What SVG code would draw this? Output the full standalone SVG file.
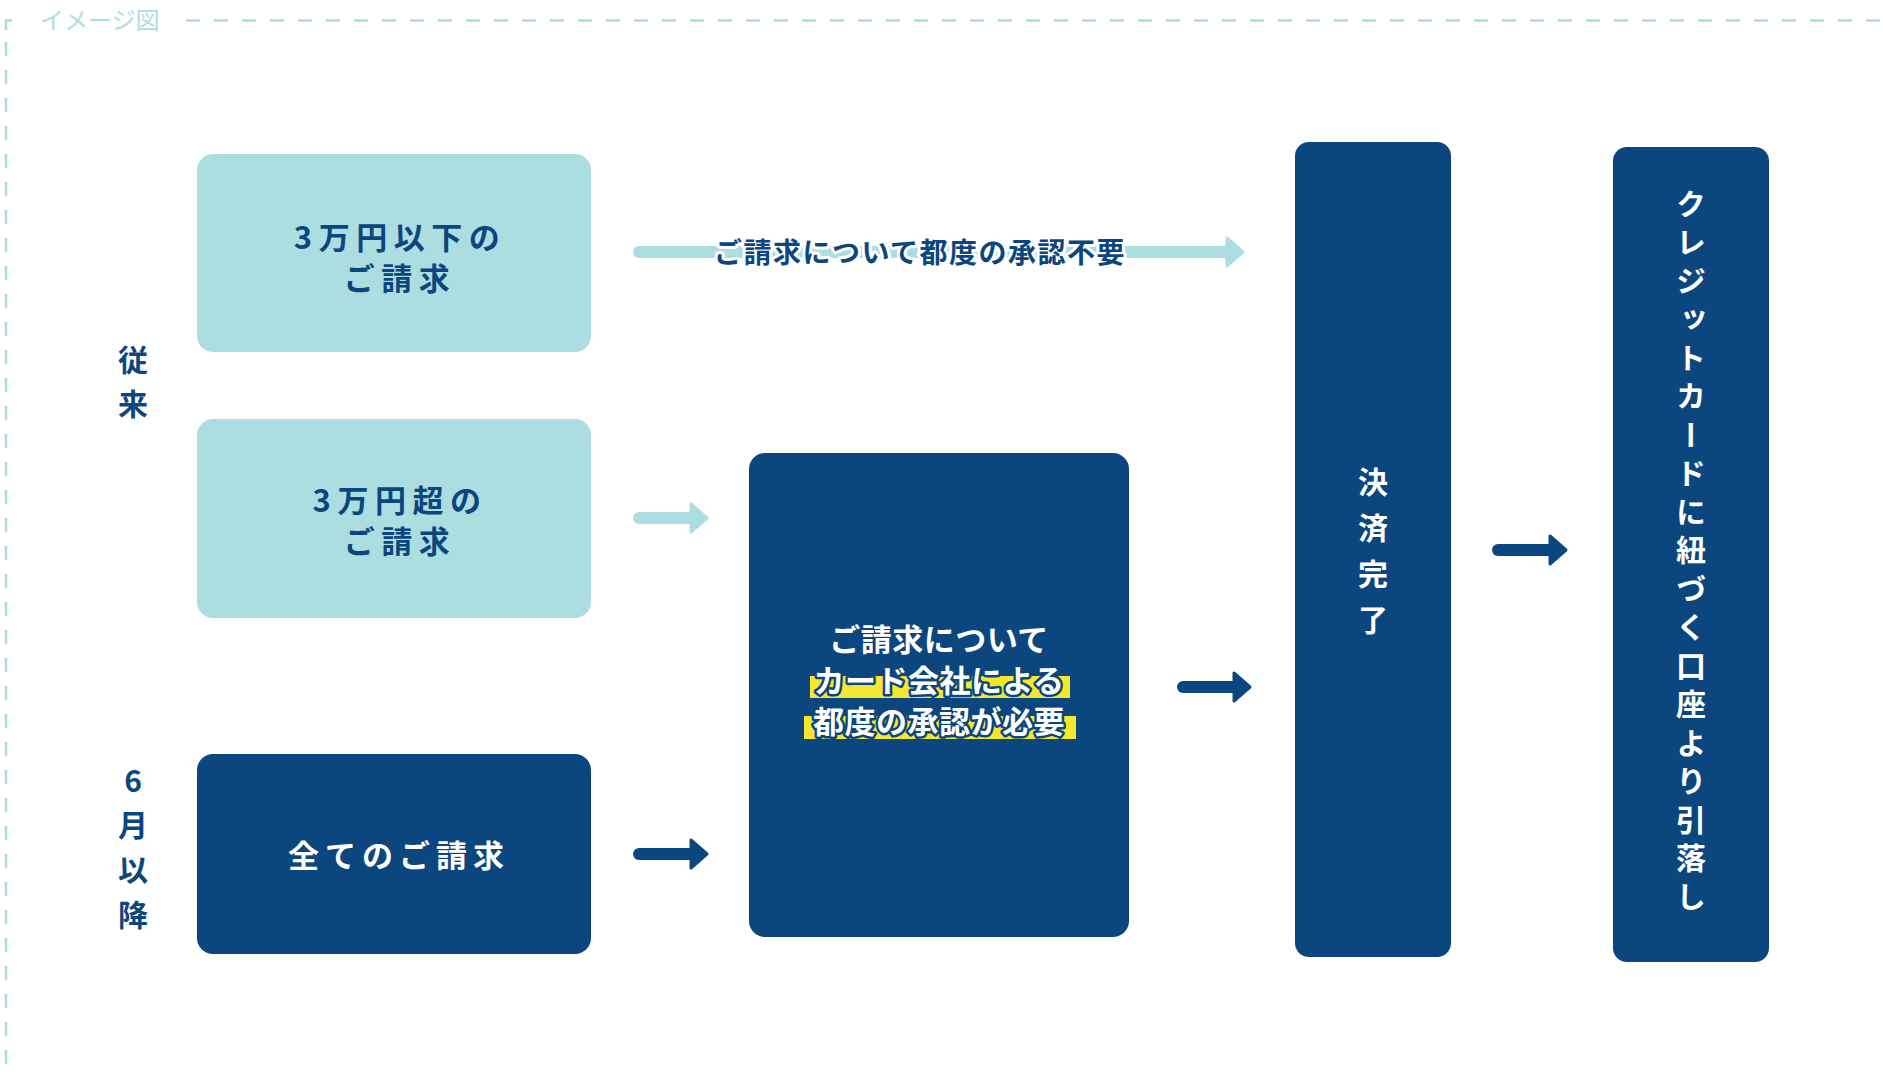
<svg xmlns="http://www.w3.org/2000/svg" width="1883" height="1076" viewBox="0 0 1883 1076">
<style>
.t{font-family:"Noto Sans CJK JP","Noto Sans",sans-serif;font-weight:700}
.navy{fill:#0c467f}
.teal{fill:#acdde0}
.tn{fill:#0c467f}
.tw{fill:#ffffff}
.frame{fill:none;stroke:#acdde0;stroke-width:2.5;stroke-dasharray:14 14}
.shL{stroke:#acdde0;stroke-width:12;stroke-linecap:round}
.hdL{fill:#acdde0;stroke:#acdde0;stroke-width:3;stroke-linejoin:round}
.shD{stroke:#0c467f;stroke-width:12;stroke-linecap:round}
.hdD{fill:#0c467f;stroke:#0c467f;stroke-width:3;stroke-linejoin:round}
.vert{writing-mode:vertical-rl;text-orientation:mixed}
</style>
<rect width="1883" height="1076" fill="#ffffff"/>
<g id="frame">
<path class="frame" d="M186,20.5 H1890"/>
<path class="frame" d="M6,42 V1090"/>
<path d="M6,30 V20.5 H12" fill="none" stroke="#acdde0" stroke-width="2.5"/>
<text class="t" x="40" y="29" font-size="24" fill="#acdde0" style="font-weight:400">イメージ図</text>
</g>
<g id="label-before">
<text class="t tn" x="133" y="371" font-size="30" text-anchor="middle">従</text>
<text class="t tn" x="133" y="415" font-size="30" text-anchor="middle">来</text>
</g>
<g id="label-after">
<text class="t tn" x="133" y="792" font-size="30" text-anchor="middle">6</text>
<text class="t tn" x="133" y="836" font-size="30" text-anchor="middle">月</text>
<text class="t tn" x="133" y="881" font-size="30" text-anchor="middle">以</text>
<text class="t tn" x="133" y="926" font-size="30" text-anchor="middle">降</text>
</g>
<g id="node-under30k">
<rect class="teal" x="197" y="154" width="394" height="198" rx="16"/>
<text class="t tn" x="400" y="249" font-size="31" text-anchor="middle" letter-spacing="6.5">3万円以下の</text>
<text class="t tn" x="400" y="290" font-size="31" text-anchor="middle" letter-spacing="6.5">ご請求</text>
</g>
<g id="node-over30k">
<rect class="teal" x="197" y="419" width="394" height="199" rx="16"/>
<text class="t tn" x="400" y="512" font-size="31" text-anchor="middle" letter-spacing="6.5">3万円超の</text>
<text class="t tn" x="400" y="553" font-size="31" text-anchor="middle" letter-spacing="6.5">ご請求</text>
</g>
<g id="node-all">
<rect class="navy" x="197" y="754" width="394" height="200" rx="16"/>
<text class="t tw" x="399" y="867" font-size="31" text-anchor="middle" letter-spacing="6">全てのご請求</text>
</g>
<g id="node-approval">
<rect class="navy" x="749" y="453" width="380" height="484" rx="16"/>
<rect x="810" y="676" width="260" height="22" fill="#f4e72e"/>
<rect x="804" y="716" width="272" height="23" fill="#f4e72e"/>
<g class="t" font-size="31" text-anchor="middle" fill="#ffffff" stroke="#0c467f" stroke-width="5" stroke-linejoin="round" letter-spacing="0.5" style="paint-order:stroke">
<text x="939" y="651">ご請求について</text>
<text x="939" y="692">カード会社による</text>
<text x="939" y="733">都度の承認が必要</text>
</g>
</g>
<g id="node-settled">
<rect class="navy" x="1295" y="142" width="156" height="815" rx="14"/>
<text class="t tw vert" x="1373" y="559" font-size="30" text-anchor="middle" letter-spacing="16">決済完了</text>
</g>
<g id="node-debit">
<rect class="navy" x="1613" y="147" width="156" height="815" rx="14"/>
<text class="t tw vert" x="1691" y="554" font-size="30" text-anchor="middle" letter-spacing="8.5">クレジットカードに紐づく口座より引落し</text>
</g>
<g id="connectors">
<line class="shL" x1="639" y1="252" x2="1232" y2="252"/>
<path class="hdL" d="M1227,238 L1243,252 L1227,266 Z"/>
<line class="shL" x1="639" y1="518" x2="696" y2="518"/>
<path class="hdL" d="M691,504 L707,518 L691,532 Z"/>
<line class="shD" x1="639" y1="854" x2="696" y2="854"/>
<path class="hdD" d="M691,840 L707,854 L691,868 Z"/>
<line class="shD" x1="1183" y1="687" x2="1239" y2="687"/>
<path class="hdD" d="M1234,673 L1250,687 L1234,701 Z"/>
<line class="shD" x1="1498" y1="550" x2="1555" y2="550"/>
<path class="hdD" d="M1550,536 L1566,550 L1550,564 Z"/>
<text class="t tn" x="920" y="263" font-size="28" text-anchor="middle" letter-spacing="1.5" stroke="#ffffff" stroke-width="6" stroke-linejoin="round" style="paint-order:stroke">ご請求について都度の承認不要</text>
</g>
</svg>
